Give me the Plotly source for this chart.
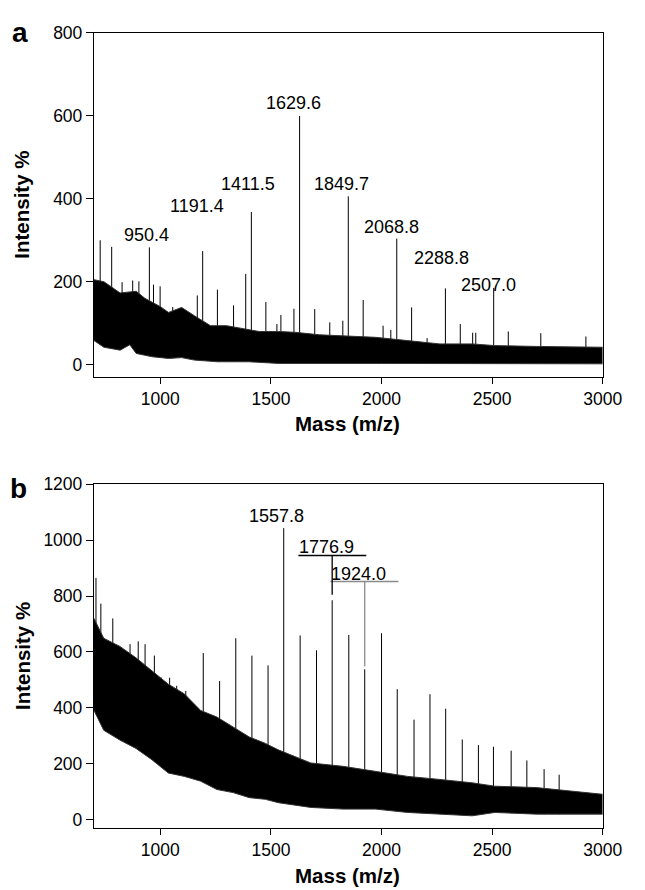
import plotly.graph_objects as go

W, H = 645, 890
FONT = "Liberation Sans, Arial, sans-serif"

# ---------------- Panel a data ----------------
a_peak_mz = [728, 780, 827, 875, 903, 950.4, 969, 999, 1056, 1167, 1191.4, 1258, 1331, 1386,
             1411.5, 1477, 1527, 1545, 1604, 1629.6, 1698, 1766, 1825, 1849.7, 1917, 2007, 2042,
             2068.8, 2136, 2206, 2288.8, 2356, 2412, 2426, 2507.0, 2573, 2720, 2924]
a_peak_int = [300, 284, 199, 203, 201, 283, 193, 189, 139, 167, 274, 181, 143, 219,
              368, 151, 98, 120, 135, 600, 134, 102, 106, 406, 156, 94, 84,
              304, 138, 64, 184, 98, 77, 77, 185, 80, 76, 68]

a_up_mz = [700, 745, 818, 891, 930, 964, 1000, 1037, 1096, 1154, 1227, 1300, 1373, 1446, 1534,
           1610, 1720, 1826, 1972, 2118, 2264, 2410, 2512, 2700, 3000]
a_up_int = [205, 200, 173, 177, 160, 150, 140, 126, 138, 118, 94, 94, 87, 80, 80,
            78, 72, 70, 66, 58, 50, 50, 46, 44, 42]
a_lo_mz = [700, 745, 818, 862, 891, 964, 1037, 1096, 1154, 1260, 1400, 1534, 2000, 3000]
a_lo_int = [58, 42, 35, 48, 27, 19, 15, 17, 11, 7, 7, 3, 3, 2]

a_labels = ["950.4", "1191.4", "1411.5", "1629.6", "1849.7", "2068.8", "2288.8", "2507.0"]
a_label_mz = [938, 1167, 1395, 1602, 1820, 2046, 2271, 2484]
a_label_int = [312, 382, 436, 631, 435, 332, 257, 193]

# ---------------- Panel b data ----------------
b_peak_mz = [709, 731, 785, 863, 900, 931, 973, 1005, 1042, 1074, 1115, 1194, 1268, 1341,
             1414, 1487, 1557.8, 1632, 1706, 1776.9, 1852, 1924.0, 2000, 2071, 2147, 2219,
             2290, 2365, 2438, 2506, 2586, 2657, 2735, 2803]
b_peak_int = [865, 773, 720, 628, 638, 628, 587, 508, 508, 479, 461, 596, 496, 649,
              587, 552, 1043, 659, 606, 785, 661, 538, 667, 467, 358, 449,
              397, 287, 267, 261, 247, 212, 181, 161]

b_env_mz = [700, 744, 817, 890, 963, 1036, 1109, 1182, 1256, 1329, 1402, 1475, 1533, 1680,
            1826, 1972, 2118, 2264, 2410, 2512, 2700, 3000]
b_up_int = [720, 649, 620, 579, 532, 485, 450, 391, 367, 332, 296, 273, 250, 203,
            191, 173, 155, 144, 132, 120, 115, 91]
b_lo_int = [391, 320, 285, 255, 214, 167, 155, 138, 108, 97, 79, 73, 61, 44,
            38, 38, 26, 20, 14, 26, 20, 20]

b_labels = ["1557.8", "1776.9", "1924.0"]
b_label_mz = [1527, 1752, 1898]
b_label_int = [1086, 976, 880]
# label underlines / leaders (panel b)
b_under_x0 = [1624, 1769]
b_under_x1 = [1931, 2076]
b_under_y = [945, 852]
b_leader_mz = [1776.9, 1924.0]
b_leader_lo = [805, 549]
b_leader_col = ["black", "#8a8a8a"]

x_ticks = [1000, 1500, 2000, 2500, 3000]
x_range = [700, 3000]
a_yrange = [-29, 800]
b_yrange = [-30, 1200]
a_yticks = [0, 200, 400, 600, 800]
b_yticks = [0, 200, 400, 600, 800, 1000, 1200]


def stems(mz, inten):
    xs, ys = [], []
    for m, v in zip(mz, inten):
        xs += [m, m, None]
        ys += [0, v, None]
    return xs, ys


fig = go.Figure()


def add_panel(xa, ya, yr, pmz, pint, up_mz, up_int, lo_mz, lo_int):
    sx, sy = stems(pmz, pint)
    fig.add_trace(go.Scatter(x=sx, y=sy, mode="lines", line=dict(color="black", width=1),
                             xaxis=xa, yaxis=ya, showlegend=False, hoverinfo="skip"))
    # white cover below the noise band (hides stem feet)
    fig.add_trace(go.Scatter(x=list(lo_mz) + [x_range[1], x_range[0]],
                             y=list(lo_int) + [yr[0], yr[0]], mode="none",
                             fill="toself", fillcolor="white",
                             xaxis=xa, yaxis=ya, showlegend=False, hoverinfo="skip"))
    fig.add_trace(go.Scatter(x=lo_mz, y=lo_int, mode="lines", line=dict(color="#333", width=1),
                             xaxis=xa, yaxis=ya, showlegend=False, hoverinfo="skip"))
    fig.add_trace(go.Scatter(x=up_mz, y=up_int, mode="lines", line=dict(color="#333", width=1),
                             fill="tonexty", fillcolor="black",
                             xaxis=xa, yaxis=ya, showlegend=False, hoverinfo="skip"))


add_panel("x", "y", a_yrange, a_peak_mz, a_peak_int, a_up_mz, a_up_int, a_lo_mz, a_lo_int)
add_panel("x2", "y2", b_yrange, b_peak_mz, b_peak_int, b_env_mz, b_up_int, b_env_mz, b_lo_int)

annotations = []
for t, x, y in zip(a_labels, a_label_mz, a_label_int):
    annotations.append(dict(text=t, x=x, y=y, xref="x", yref="y", showarrow=False,
                            font=dict(size=18, color="black", family=FONT)))
for t, x, y in zip(b_labels, b_label_mz, b_label_int):
    annotations.append(dict(text=t, x=x, y=y, xref="x2", yref="y2", showarrow=False,
                            font=dict(size=18, color="black", family=FONT)))

shapes = []
for x0, x1, y, c in zip(b_under_x0, b_under_x1, b_under_y, b_leader_col):
    shapes.append(dict(type="line", xref="x2", yref="y2", x0=x0, x1=x1, y0=y, y1=y,
                       line=dict(color=c, width=1.3)))
for m, lo, y, c in zip(b_leader_mz, b_leader_lo, b_under_y, b_leader_col):
    shapes.append(dict(type="line", xref="x2", yref="y2", x0=m, x1=m, y0=lo, y1=y,
                       line=dict(color=c, width=1.3)))


def px_x(p):
    return p / W


def px_y(p):
    return 1 - p / H


for yc in [419.6, 877]:
    annotations.append(dict(text="<b>Mass (m/z)</b>", x=px_x(359), y=px_y(yc), xref="paper",
                            yref="paper", showarrow=False, xanchor="center", yanchor="middle",
                            font=dict(size=20.5, color="black", family=FONT)))
for yc in [197.5, 655]:
    annotations.append(dict(text="<b>Intensity %</b>", x=px_x(22.6), y=px_y(yc), xref="paper",
                            yref="paper", showarrow=False, textangle=-90, xanchor="center",
                            yanchor="middle", font=dict(size=20.5, color="black", family=FONT)))
for t, xc, yc in [("a", 20.5, 22.5), ("b", 19.5, 485)]:
    annotations.append(dict(text="<b>%s</b>" % t, x=px_x(xc), y=px_y(yc), xref="paper",
                            yref="paper", showarrow=False, xanchor="center", yanchor="middle",
                            font=dict(size=28, color="black", family=FONT)))

xdom = [97 / W, 622 / W]
common_x = dict(domain=xdom, range=x_range, tickvals=x_ticks, ticks="outside", ticklen=6,
                tickwidth=1.2, tickcolor="black", showline=True, mirror=True, linecolor="black",
                linewidth=1.3, showgrid=False, zeroline=False,
                tickfont=dict(size=17.5, color="black", family=FONT))
common_y = dict(ticks="outside", ticklen=7, tickwidth=1.2, tickcolor="black", showline=True,
                mirror=True, linecolor="black", linewidth=1.3, showgrid=False, zeroline=False,
                tickfont=dict(size=17.5, color="black", family=FONT))

fig.update_layout(
    width=W, height=H,
    margin=dict(l=0, r=0, t=0, b=0),
    paper_bgcolor="white", plot_bgcolor="white",
    xaxis=dict(anchor="y", **common_x),
    yaxis=dict(anchor="x", domain=[px_y(371.7), px_y(23.3)], range=a_yrange,
               tickvals=a_yticks, **common_y),
    xaxis2=dict(anchor="y2", **common_x),
    yaxis2=dict(anchor="x2", domain=[px_y(829.3), px_y(480.7)], range=b_yrange,
                tickvals=b_yticks, **common_y),
    annotations=annotations,
    shapes=shapes,
    font=dict(family=FONT, color="black"),
    hovermode=False,
)

fig.write_html("out.html", config={"displayModeBar": False},
               post_script="document.body.style.margin='0px';")
